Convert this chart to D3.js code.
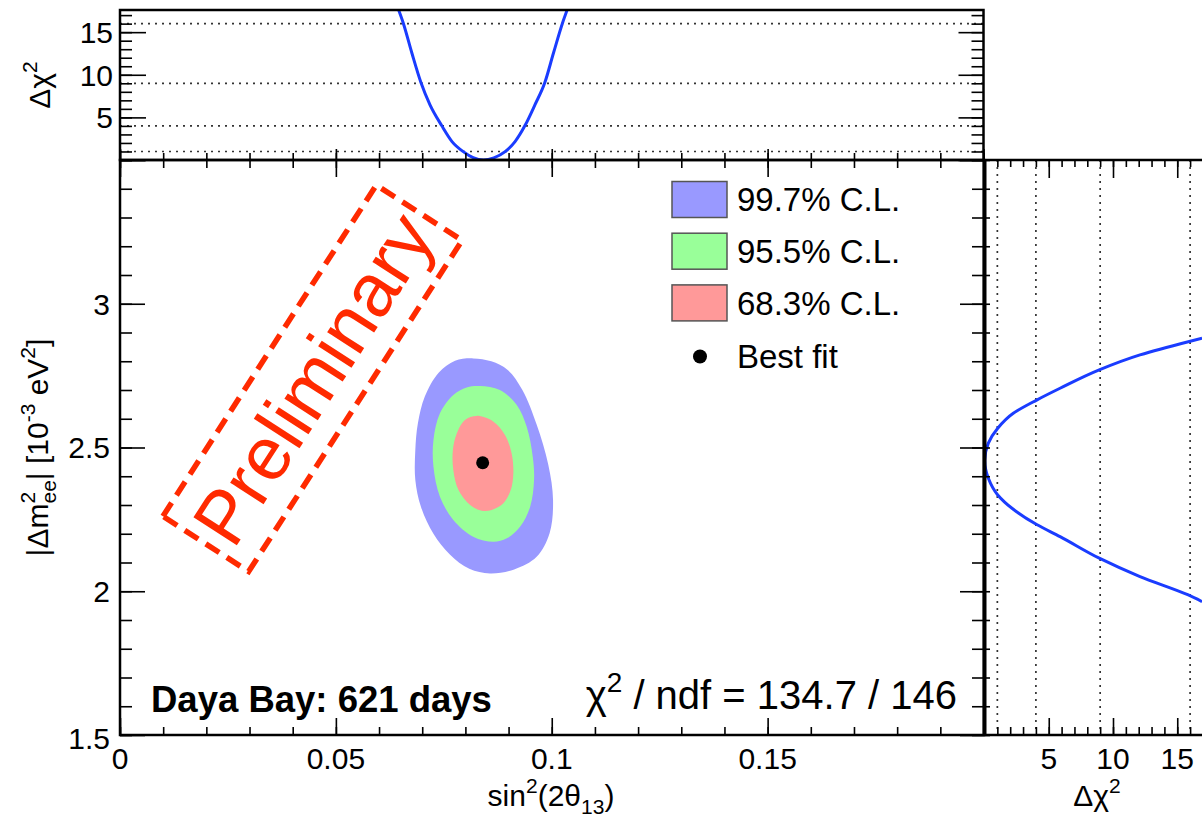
<!DOCTYPE html>
<html>
<head>
<meta charset="utf-8">
<script src="https://cdn.jsdelivr.net/npm/d3@7"></script>
<style>
  body { margin: 0; background: #fff; }
  svg { display: block; font-family: "Liberation Sans", Arial, Helvetica, sans-serif; }
</style>
</head>
<body>
<svg id="chart" width="1202" height="822"></svg>
<script>
// best fit point [sin^2(2theta13), |dm2ee| 1e-3 eV^2]
const bestFit = [0.0840, 2.447];

// confidence contours
const contour997 = [[0.0818,2.810],[0.0860,2.800],[0.0898,2.770],[0.0932,2.700],[0.0965,2.580],[0.0992,2.440],
  [0.1003,2.317],[0.0995,2.202],[0.0965,2.120],[0.0913,2.076],[0.0857,2.062],[0.0809,2.078],[0.0764,2.128],
  [0.0726,2.200],[0.0697,2.294],[0.0684,2.387],[0.0684,2.491],[0.0690,2.584],[0.0706,2.677],[0.0738,2.760],[0.0776,2.802]];
const contour955 = [[0.0834,2.714],[0.0880,2.700],[0.0919,2.648],[0.0942,2.572],[0.0956,2.468],[0.0959,2.387],
  [0.0950,2.294],[0.0927,2.225],[0.0896,2.184],[0.0865,2.172],[0.0818,2.190],[0.0772,2.248],[0.0741,2.329],
  [0.0726,2.433],[0.0726,2.526],[0.0741,2.619],[0.0772,2.683],[0.0803,2.709]];
const contour683 = [[0.0826,2.610],[0.0865,2.590],[0.0892,2.543],[0.0907,2.480],[0.0911,2.410],[0.0905,2.352],
  [0.0888,2.306],[0.0861,2.283],[0.0838,2.280],[0.0811,2.300],[0.0784,2.352],[0.0772,2.422],[0.0771,2.491],
  [0.0780,2.549],[0.0799,2.596]];

const legendLabels = ["99.7% C.L.", "95.5% C.L.", "68.3% C.L."];
const legendColors = ["#9999ff", "#99ff99", "#ff9999"];

// delta chi2 profile versus sin^2(2theta13) (top panel)
const scanSin = [[0.0645,17.65],[0.0656,16.08],[0.0676,12.55],[0.0697,9.09],[0.0718,6.47],[0.0745,4.04],
  [0.0769,2.16],[0.0795,0.98],[0.0818,0.27],[0.0842,0],[0.0866,0.26],[0.0892,0.98],[0.0915,2.16],
  [0.0938,4.04],[0.0961,6.47],[0.0984,9.09],[0.1004,12.55],[0.1025,16.08],[0.1036,17.65]];

// delta chi2 profile versus |dm2ee| (right panel), [dchi2, dm2]
const scanDm = [[16.93,2.880],[15.86,2.868],[12.10,2.822],[8.93,2.770],[5.88,2.706],[4.06,2.665],[2.24,2.619],
  [1.03,2.567],[0.30,2.515],[0.02,2.455],[0.30,2.393],[1.03,2.335],[2.24,2.285],[4.06,2.232],[5.88,2.190],
  [8.93,2.115],[12.10,2.051],[15.86,1.987],[16.93,1.964]];

const chi2Levels = [1, 4, 9, 16];
const xTickLabels = [0, 0.05, 0.1, 0.15];
const yTickLabels = [1.5, 2, 2.5, 3];
const chiTickLabels = [5, 10, 15];

const svg = d3.select("#chart");
const FS = 30;

// scales
const x = d3.scaleLinear().domain([0, 0.2]).range([120, 983.5]);
const y = d3.scaleLinear().domain([1.5, 3.5]).range([735, 160]);
const chiY = d3.scaleLinear().domain([0, 17.6]).range([160, 10]);
const chiX = d3.scaleLinear().domain([0, 17.6]).range([984.5, 984.5 + 17.6 * 12.85]);

svg.append("rect").attr("width", 1202).attr("height", 822).attr("fill", "#fff");

const defs = svg.append("defs");
defs.append("clipPath").attr("id", "clipTop").append("rect")
  .attr("x", 120).attr("y", 10).attr("width", 863.5).attr("height", 150);
defs.append("clipPath").attr("id", "clipRight").append("rect")
  .attr("x", 984).attr("y", 160).attr("width", 240).attr("height", 575);

// dotted chi2 levels
const grid = svg.append("g").attr("stroke", "#333").attr("stroke-width", 1.7).attr("stroke-dasharray", "2,5");
grid.selectAll(".h").data(chi2Levels).join("line")
  .attr("x1", 120).attr("x2", 983.5)
  .attr("y1", d => chiY(d)).attr("y2", d => chiY(d));
grid.selectAll(".v").data(chi2Levels).join("line")
  .attr("x1", d => chiX(d)).attr("x2", d => chiX(d))
  .attr("y1", 160).attr("y2", 735);

// contours
const contourLine = d3.line().x(d => x(d[0])).y(d => y(d[1])).curve(d3.curveCatmullRomClosed.alpha(0.5));
[contour997, contour955, contour683].forEach((c, i) => {
  svg.append("path").attr("d", contourLine(c)).attr("fill", legendColors[i]);
});
svg.append("circle").attr("cx", x(bestFit[0])).attr("cy", y(bestFit[1])).attr("r", 6.5).attr("fill", "#000");

// profiles
svg.append("path")
  .attr("d", d3.line().x(d => x(d[0])).y(d => chiY(d[1])).curve(d3.curveMonotoneX)(scanSin))
  .attr("clip-path", "url(#clipTop)")
  .attr("fill", "none").attr("stroke", "#1a3cff").attr("stroke-width", 3);
svg.append("path")
  .attr("d", d3.line().x(d => chiX(d[0])).y(d => y(d[1])).curve(d3.curveMonotoneY)(scanDm))
  .attr("clip-path", "url(#clipRight)")
  .attr("fill", "none").attr("stroke", "#1a3cff").attr("stroke-width", 3);

// tick marks via d3 axes
function marks(gen, scale, vals, tx, ty, size) {
  svg.append("g").attr("transform", `translate(${tx},${ty})`)
    .call(gen(scale).tickValues(vals).tickSize(size).tickSizeOuter(0).tickFormat(""))
    .call(g => g.select(".domain").remove())
    .selectAll("line").attr("stroke", "#000").attr("stroke-width", 1.6);
}
const xMinor = d3.range(0, 21).map(d => d / 100);
const xMajor = d3.range(0, 5).map(d => d * 0.05);
const yMinor = d3.range(15, 36).map(d => d / 10);
const yMajor = [1.5, 2, 2.5, 3, 3.5];
const chiMinor = d3.range(0, 18);
const chiMajor = [0, 5, 10, 15];

// main panel
marks(d3.axisTop, x, xMinor, 0, 735, 8);
marks(d3.axisTop, x, xMajor, 0, 735, 17);
marks(d3.axisBottom, x, xMinor, 0, 160, 8);
marks(d3.axisBottom, x, xMajor, 0, 160, 17);
marks(d3.axisRight, y, yMinor, 120, 0, 12);
marks(d3.axisRight, y, yMajor, 120, 0, 25);
marks(d3.axisLeft, y, yMinor, 984, 0, 12);
marks(d3.axisLeft, y, yMajor, 984, 0, 24);
// top panel
marks(d3.axisRight, chiY, chiMinor, 120, 0, 12);
marks(d3.axisRight, chiY, chiMajor, 120, 0, 26);
marks(d3.axisLeft, chiY, chiMinor, 983.5, 0, 12);
marks(d3.axisLeft, chiY, chiMajor, 983.5, 0, 25);
marks(d3.axisTop, x, xMinor, 0, 160, 7);
marks(d3.axisTop, x, xMajor, 0, 160, 11);
// right panel
marks(d3.axisTop, chiX, chiMinor, 0, 735, 8);
marks(d3.axisTop, chiX, chiMajor, 0, 735, 17);
marks(d3.axisBottom, chiX, chiMinor, 0, 160, 7);
marks(d3.axisBottom, chiX, chiMajor, 0, 160, 18);
marks(d3.axisRight, y, yMinor, 984, 0, 6);

// frames
const frame = svg.append("g").attr("fill", "none").attr("stroke", "#000");
frame.append("rect").attr("x", 120).attr("y", 10).attr("width", 863.5).attr("height", 150).attr("stroke-width", 2.5);
frame.append("rect").attr("x", 120).attr("y", 160).attr("width", 864).attr("height", 575).attr("stroke-width", 2.5);
frame.append("line").attr("x1", 984.5).attr("x2", 984.5).attr("y1", 160).attr("y2", 736).attr("stroke-width", 4);
frame.append("line").attr("x1", 984).attr("x2", 1202).attr("y1", 160).attr("y2", 160).attr("stroke-width", 2.5);
frame.append("line").attr("x1", 984).attr("x2", 1202).attr("y1", 735).attr("y2", 735).attr("stroke-width", 2.5);

// tick labels
const labels = svg.append("g").attr("font-size", FS).attr("fill", "#000");
labels.selectAll(".xl").data(xTickLabels).join("text")
  .attr("x", d => x(d)).attr("y", 769).attr("text-anchor", "middle").text(d => String(d));
labels.selectAll(".cl").data(chiTickLabels).join("text")
  .attr("x", d => chiX(d)).attr("y", 769).attr("text-anchor", "middle").text(d => String(d));
labels.selectAll(".yl").data(yTickLabels).join("text")
  .attr("x", 110).attr("y", d => y(d) + (d === 1.5 ? 3 : 0)).attr("dy", "0.36em").attr("text-anchor", "end").text(d => String(d));
labels.selectAll(".tl").data(chiTickLabels).join("text")
  .attr("x", 113).attr("y", d => chiY(d)).attr("dy", "0.36em").attr("text-anchor", "end").text(d => String(d));

// rich text helper: parts [text, kind, dx]
function rich(t, parts, fs) {
  let cur = 0;
  parts.forEach(([s, k, dx]) => {
    const off = k === "sup" ? -0.42 * fs : k === "sub" ? 0.28 * fs : 0;
    t.append("tspan").attr("dy", off - cur).attr("dx", dx || 0)
      .attr("font-size", k === "n" ? fs : fs * 0.7).text(s);
    cur = off;
  });
  return t;
}

// axis titles
rich(svg.append("text").attr("x", 551).attr("y", 806).attr("text-anchor", "middle").attr("font-size", FS),
  [["sin", "n"], ["2", "sup"], ["(2θ", "n"], ["13", "sub"], [")", "n"]], FS);
rich(svg.append("text").attr("x", 1097).attr("y", 806).attr("text-anchor", "middle").attr("font-size", FS),
  [["Δχ", "n"], ["2", "sup"]], FS);
rich(svg.append("text").attr("transform", "translate(48,447.5) rotate(-90)").attr("text-anchor", "middle").attr("font-size", FS),
  [["|Δm", "n"], ["2", "sup"], ["ee", "sub", -0.7 * FS * 0.556], ["| [10", "n"], ["-3", "sup"], [" eV", "n"], ["2", "sup"], ["]", "n"]], FS);
rich(svg.append("text").attr("transform", "translate(50,85) rotate(-90)").attr("text-anchor", "middle").attr("font-size", FS),
  [["Δχ", "n"], ["2", "sup"]], FS);

// legend
const legend = svg.append("g");
legendLabels.forEach((l, i) => {
  const cy = 199.5 + i * 51.7;
  legend.append("rect").attr("x", 672).attr("y", cy - 18).attr("width", 55).attr("height", 36)
    .attr("fill", legendColors[i]).attr("stroke", "#555").attr("stroke-width", 1.5);
  legend.append("text").attr("x", 737).attr("y", cy).attr("dy", "0.36em").attr("font-size", 33).text(l);
});
legend.append("circle").attr("cx", 700).attr("cy", 356.5).attr("r", 7).attr("fill", "#000");
legend.append("text").attr("x", 737).attr("y", 356.5).attr("dy", "0.36em").attr("font-size", 33).text("Best fit");

// annotations
svg.append("text").attr("x", 151).attr("y", 712).attr("font-size", 36.5).attr("font-weight", "bold").text("Daya Bay: 621 days");
rich(svg.append("text").attr("x", 957).attr("y", 709).attr("text-anchor", "end").attr("font-size", 40),
  [["χ", "n"], ["2", "sup"], [" / ndf = 134.7 / 146", "n"]], 40);

// preliminary stamp
const stamp = svg.append("g").attr("transform", "translate(312.5,378.3) rotate(-57.2)");
stamp.append("rect").attr("x", -197).attr("y", -51).attr("width", 394).attr("height", 102)
  .attr("fill", "none").attr("stroke", "#ff2a00").attr("stroke-width", 5.5).attr("stroke-dasharray", "16,9");
stamp.append("text").attr("x", 0).attr("y", 0).attr("dy", "0.36em").attr("text-anchor", "middle")
  .attr("font-size", 75).attr("fill", "#ff2a00").text("Preliminary");
</script>
</body>
</html>
